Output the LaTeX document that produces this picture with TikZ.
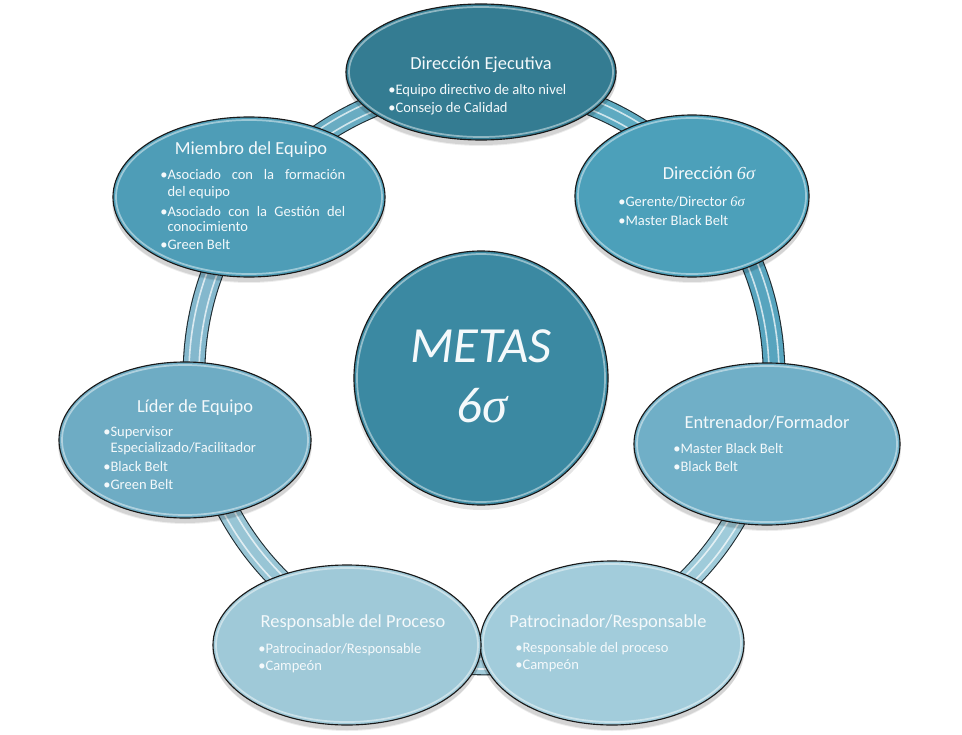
\documentclass[tikz,border=0pt]{standalone}
\usepackage{fontspec}
\setmainfont{Carlito}
\newfontfamily\sigfont{Liberation Serif}
\usetikzlibrary{shapes.geometric}
\definecolor{cEje}{HTML}{347C92}
\definecolor{cSig}{HTML}{4CA0BA}
\definecolor{cEnt}{HTML}{70AFC7}
\definecolor{cPat}{HTML}{A2CCDB}
\definecolor{cRes}{HTML}{9FC9D8}
\definecolor{cLid}{HTML}{6EACC4}
\definecolor{cMie}{HTML}{4E9DB7}
\definecolor{cMet}{HTML}{3B89A2}
\definecolor{ringedge}{HTML}{1E2B30}
\definecolor{txt}{HTML}{F4F9FB}
\newcommand\sixsig{{\sigfont\itshape 6σ}}
\newcommand\bubble[6]{%
  \fill[black,opacity=0.10] (#2,#3+4) ellipse[x radius=#4+1, y radius=#5+1];
  \fill[black,opacity=0.07] (#2,#3+6) ellipse[x radius=#4, y radius=#5];
  \node[bub, fill=#6, minimum width=1.5pt*#4, minimum height=1.5pt*#5] (#1) at (#2,#3) {};
  \draw[hl] (#2,#3) ellipse[x radius=#4-3, y radius=#5-3];
}
\newcommand\ringseg[3]{%
  \draw[line width=17pt, draw=ringedge] (484,374) ++(#1:290) arc[start angle=#1, end angle=#2, radius=290];
  \draw[line width=15.4pt, draw=#3] (484,374) ++(#1:290) arc[start angle=#1, end angle=#2, radius=290];
  \draw[stripe] (484,374) ++(#1:295) arc[start angle=#1, end angle=#2, radius=295];
  \draw[stripe] (484,374) ++(#1:285) arc[start angle=#1, end angle=#2, radius=285];
}
\begin{document}
\begin{tikzpicture}[x=0.75pt,y=-0.75pt,
  bub/.style={ellipse, draw=black!90, line width=0.85pt, inner sep=0pt, outer sep=0pt},
  hl/.style={draw=white, opacity=0.45, line width=1.3pt},
  stripe/.style={draw=white, opacity=0.7, line width=1.2pt},
  ttl/.style={text=txt, font=\fontsize{13.8}{16}\selectfont, anchor=base, inner sep=0pt},
  bl/.style={text=txt, font=\fontsize{10.9}{13}\selectfont, anchor=base west, inner sep=0pt}]
\useasboundingbox (0,0) rectangle (962,734);
\fill[white] (0,0) rectangle (962,734);
% ring
\ringseg{-90}{-40}{cSig!90!white}
\ringseg{-40}{14}{cSig!70!cEnt}
\ringseg{14}{65}{cPat!95!cEnt}
\ringseg{65}{117}{cPat}
\ringseg{117}{168}{cRes!85!cLid}
\ringseg{168}{217}{cLid!85!white}
\ringseg{217}{270}{cMie!85!white}
% bubbles
\bubble{eje}{481}{72}{135}{68}{cEje}
\bubble{sig}{692}{196}{117}{81}{cSig}
\bubble{ent}{767}{444}{133}{81}{cEnt}
\bubble{pat}{612}{643}{132}{82}{cPat}
\bubble{res}{347}{645}{134}{80}{cRes}
\bubble{lid}{185}{440}{126}{78}{cLid}
\bubble{mie}{249}{197}{136}{80}{cMie}
% center
\fill[black,opacity=0.10] (481,382) circle[radius=128];
\node[bub, circle, fill=cMet, minimum size=190.5pt] (met) at (481,378) {};
\draw[hl] (481,378) circle[radius=124];
\node[text=txt, anchor=base, inner sep=0pt, font=\fontsize{38}{40}\selectfont\itshape] (metas) at (481,362) {METAS};
\node[text=txt, anchor=base, inner sep=0pt, font=\fontsize{38}{40}\selectfont] (metsig) at (482,422) {{\itshape 6}{\sigfont\itshape σ}};
% Direccion Ejecutiva
\node[ttl] (t1) at (481,70) {Dirección Ejecutiva};
\node[bl] (t1a) at (388,95) {•Equipo directivo de alto nivel};
\node[bl] (t1b) at (388,113) {•Consejo de Calidad};
% Direccion 6sigma
\node[ttl] (t2) at (709,180) {Dirección \sixsig};
\node[bl] (t2a) at (618,207) {•Gerente/Director \sixsig};
\node[bl] (t2b) at (618,225) {•Master Black Belt};
% Entrenador
\node[ttl] (t3) at (767,428) {Entrenador/Formador};
\node[bl] (t3a) at (673,453) {•Master Black Belt};
\node[bl] (t3b) at (673,471) {•Black Belt};
% Patrocinador
\node[ttl] (t4) at (608,627) {Patrocinador/Responsable};
\node[bl] (t4a) at (515,652) {•Responsable del proceso};
\node[bl] (t4b) at (515,669) {•Campeón};
% Responsable
\node[ttl] (t5) at (353,627) {Responsable del Proceso};
\node[bl] (t5a) at (258,653) {•Patrocinador/Responsable};
\node[bl] (t5b) at (258,670) {•Campeón};
% Lider
\node[ttl] (t6) at (195,412) {Líder de Equipo};
\node[bl] (t6a) at (103,436) {•Supervisor};
\node[bl] (t6b) at (103,452) {\phantom{•}Especializado/Facilitador};
\node[bl] (t6c) at (103,471) {•Black Belt};
\node[bl] (t6d) at (103,489) {•Green Belt};
% Miembro
\node[ttl] (t7) at (251,155) {Miembro del Equipo};
\node[bl] (t7a) at (160,180) {\makebox[138.75pt][s]{•Asociado con la formación}};
\node[bl] (t7b) at (160,196) {\phantom{•}del equipo};
\node[bl] (t7c) at (160,216) {\makebox[138.75pt][s]{•Asociado con la Gestión del}};
\node[bl] (t7d) at (160,231) {\phantom{•}conocimiento};
\node[bl] (t7e) at (160,249) {•Green Belt};
\end{tikzpicture}
\end{document}
